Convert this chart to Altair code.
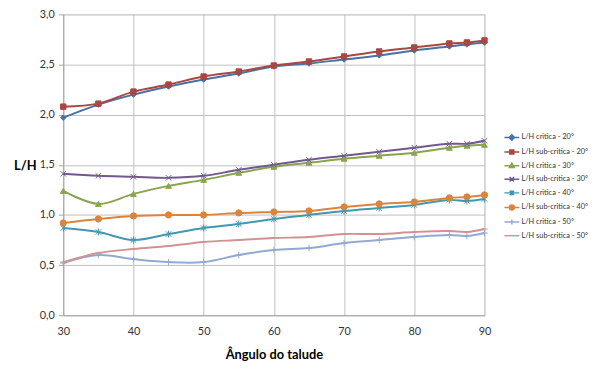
import altair as alt
import pandas as pd

angles = [30, 35, 40, 45, 50, 55, 60, 65, 70, 75, 80, 85, 87.5, 90]

series_names = [
    "L/H critica - 20°",
    "L/H sub-critica - 20°",
    "L/H critica - 30°",
    "L/H sub-critica  - 30°",
    "L/H critica - 40°",
    "L/H sub-critica - 40°",
    "L/H critica - 50°",
    "L/H sub-critica - 50°",
]

crit_20 = [1.97, 2.10, 2.20, 2.28, 2.35, 2.41, 2.48, 2.51, 2.55, 2.59, 2.64, 2.68, 2.70, 2.72]
sub_20 = [2.08, 2.11, 2.23, 2.30, 2.38, 2.43, 2.49, 2.53, 2.58, 2.63, 2.67, 2.71, 2.72, 2.74]
crit_30 = [1.24, 1.11, 1.21, 1.29, 1.35, 1.42, 1.48, 1.52, 1.56, 1.59, 1.62, 1.67, 1.69, 1.70]
sub_30 = [1.41, 1.39, 1.38, 1.37, 1.39, 1.45, 1.50, 1.55, 1.59, 1.63, 1.67, 1.71, 1.71, 1.74]
crit_40 = [0.87, 0.83, 0.75, 0.81, 0.87, 0.91, 0.96, 1.00, 1.04, 1.07, 1.10, 1.15, 1.14, 1.16]
sub_40 = [0.92, 0.96, 0.99, 1.00, 1.00, 1.02, 1.03, 1.04, 1.08, 1.11, 1.13, 1.17, 1.18, 1.20]
crit_50 = [0.52, 0.60, 0.56, 0.53, 0.53, 0.60, 0.65, 0.67, 0.72, 0.75, 0.78, 0.80, 0.79, 0.82]
sub_50 = [0.53, 0.62, 0.66, 0.69, 0.73, 0.75, 0.77, 0.78, 0.81, 0.81, 0.83, 0.84, 0.83, 0.86]

colors = ["#4572A7", "#AA4643", "#89A54E", "#71588F",
          "#4198AF", "#DB843D", "#93A9CF", "#D19392"]

x_ticks = [30, 40, 50, 60, 70, 80, 90]
y_ticks = [0.0, 0.5, 1.0, 1.5, 2.0, 2.5, 3.0]

all_values = [crit_20, sub_20, crit_30, sub_30, crit_40, sub_40, crit_50, sub_50]
rows = []
for name, vals in zip(series_names, all_values):
    for a, v in zip(angles, vals):
        rows.append({"angle": a, "lh": v, "serie": name})
df = pd.DataFrame(rows)

# chart markers (one per series)
XP = "M-1,-1L1,1M-1,1L1,-1"
AST = "M-1,-1L1,1M-1,1L1,-1M0,-1.3L0,1.3"
PLUS = "M-1.2,0L1.2,0M0,-1.2L0,1.2"
DASH = "M-1.2,0L1.2,0"
shapes_chart = ["diamond", "square", "triangle-up", XP, AST, "circle", PLUS, DASH]
sizes_chart = [30, 30, 34, 30, 30, 40, 30, 30]

# legend symbols: line segment through the marker
L = "M-3,0L3,0"
shapes_legend = [
    L + "M0,-1.1L1.1,0L0,1.1L-1.1,0Z",
    L + "M-0.8,-0.8L0.8,-0.8L0.8,0.8L-0.8,0.8Z",
    L + "M0,-1L1,0.8L-1,0.8Z",
    L + "M-0.9,-0.9L0.9,0.9M-0.9,0.9L0.9,-0.9",
    L + "M-0.9,-0.9L0.9,0.9M-0.9,0.9L0.9,-0.9M0,-1.1L0,1.1",
    L + "M-1,0A1,1,0,1,0,1,0A1,1,0,1,0,-1,0Z",
    L + "M0,-1L0,1",
    L,
]

FONT = "Lato"

x_enc = alt.X(
    "angle:Q",
    scale=alt.Scale(domain=[30, 90], nice=False, zero=False),
    axis=alt.Axis(
        values=x_ticks, title="Ângulo do talude", titleFontSize=13,
        titleFontWeight="bold", titleColor="#000000", titleY=40,
        titleBaseline="middle", labelFontSize=11, labelColor="#333333",
        tickSize=0, labelPadding=11, labelFlush=False, domainColor="#a6a6a6",
        gridColor="#bfbfbf", labelFont=FONT, titleFont=FONT,
    ),
)
y_enc = alt.Y(
    "lh:Q",
    scale=alt.Scale(domain=[0, 3], nice=False),
    axis=alt.Axis(
        values=y_ticks, title="L/H", titleAngle=0, titleFontSize=13,
        titleFontWeight="bold", titleColor="#000000", titleX=-39, titleY=153,
        titleAlign="center", titleBaseline="middle",
        labelExpr="replace(format(datum.value, '.1f'), '.', ',')",
        labelFontSize=11, labelColor="#333333", tickSize=5, tickColor="#a6a6a6",
        labelPadding=4, labelFlush=False, domainColor="#a6a6a6", gridColor="#bfbfbf",
        labelFont=FONT, titleFont=FONT,
    ),
)

layers = []
for i, (name, col) in enumerate(zip(series_names, colors)):
    sub = alt.Chart(df).transform_filter(alt.datum.serie == name)
    layers.append(
        sub.mark_line(interpolate="catmull-rom", strokeWidth=2, color=col).encode(
            x=x_enc if i == 0 else alt.X("angle:Q"),
            y=y_enc if i == 0 else alt.Y("lh:Q"),
        )
    )
for name, col, shp, sz in zip(series_names, colors, shapes_chart, sizes_chart):
    sub = alt.Chart(df).transform_filter(alt.datum.serie == name)
    layers.append(
        sub.mark_point(shape=shp, size=sz, filled=True, color=col, stroke=col,
                       strokeWidth=1, opacity=1).encode(x="angle:Q", y="lh:Q")
    )

legend_def = alt.Legend(
    title=None, orient="none", legendX=451, legendY=121,
    labelFontSize=7.5, labelFont=FONT, labelColor="#333333", labelLimit=200,
    symbolSize=25, symbolStrokeWidth=1.5, labelOffset=6, rowPadding=2.8,
    padding=0, symbolOpacity=1,
)

cscale = alt.Scale(domain=series_names, range=colors)
legend_layer = alt.Chart(df).transform_filter("datum.lh < -100").mark_point(filled=True).encode(
    x="angle:Q", y="lh:Q",
    color=alt.Color("serie:N", scale=cscale, legend=legend_def),
    stroke=alt.Stroke("serie:N", scale=cscale, legend=legend_def),
    shape=alt.Shape("serie:N", scale=alt.Scale(domain=series_names, range=shapes_legend),
                    legend=legend_def),
)
layers.append(legend_layer)

chart = alt.layer(*layers).properties(
    width=427, height=305, autosize="none",
    padding={"left": 56, "top": 4, "right": 109, "bottom": 50},
).configure_view(stroke=None).configure(background="white")

chart.save("out.html", embed_options={"renderer": "svg", "actions": False})
